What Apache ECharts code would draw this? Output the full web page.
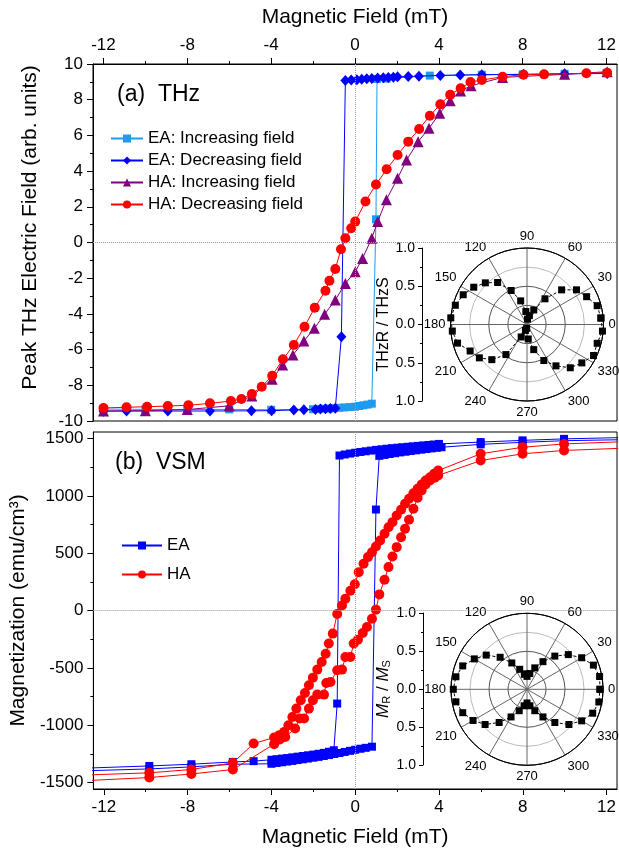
<!DOCTYPE html>
<html><head><meta charset="utf-8">
<script src="https://cdn.jsdelivr.net/npm/echarts@6/dist/echarts.min.js"></script>
<style>html,body{margin:0;padding:0;background:#fff}#c{width:619px;height:857px}</style>
</head><body><div id="c"></div>
<script>
// ---------- (a) THz panel ----------
const thzEaIncX = [-12,-10,-8,-6,-4,-2,-1.75,-1.5,-1.25,-1,-0.75,-0.5,-0.25,0,0.2,0.4,0.6,0.8,1.0,1.05,1.5,3.57,6.05,8,10,12];
const thzEaIncY = [-9.33,-9.35,-9.36,-9.35,-9.37,-9.34,-9.32,-9.31,-9.3,-9.28,-9.26,-9.24,-9.22,-9.2,-9.16,-9.12,-9.08,-9.03,1.3,9.16,9.18,9.35,9.4,9.42,9.45,9.5];
const thzEaDecX = [-12,-10.9,-8.93,-6.92,-4.94,-3.98,-2.92,-2.44,-1.89,-1.65,-1.41,-1.18,-0.94,-0.65,-0.46,-0.18,0.09,0.32,0.56,0.80,1.08,1.35,1.59,1.83,2.03,2.54,3.05,4.07,5.02,6.05,8.04,10.0,12.03];
const thzEaDecY = [-9.45,-9.44,-9.44,-9.44,-9.43,-9.42,-9.38,-9.37,-9.35,-9.33,-9.32,-9.3,-9.29,-5.28,9.08,9.1,9.12,9.15,9.17,9.19,9.21,9.23,9.25,9.26,9.28,9.3,9.32,9.36,9.38,9.4,9.42,9.45,9.47];
const thzHaIncX = [-12,-10,-8,-6,-4.92,-3.95,-3.45,-2.96,-2.44,-1.94,-1.45,-0.94,-0.46,0.01,0.36,0.80,1.08,1.5,2.03,2.46,3.01,3.53,4.04,4.54,5.04,5.54,7.04,10.0,12.03];
const thzHaIncY = [-9.44,-9.42,-9.36,-9.15,-8.6,-7.66,-6.86,-6.30,-5.52,-4.81,-4.02,-3.22,-2.29,-1.64,-0.89,0.24,1.17,2.4,3.60,4.62,5.65,6.40,7.24,7.94,8.49,8.78,9.25,9.42,9.57];
const thzHaDecX = [-12,-10.9,-9.92,-8.93,-7.95,-6.92,-5.92,-5.42,-4.92,-4.45,-3.95,-3.44,-2.92,-2.41,-1.92,-1.41,-1.22,-0.94,-0.67,-0.46,-0.18,0.01,0.5,1.0,1.51,2.03,2.54,3.06,3.57,4.07,4.54,5.04,5.51,6.05,7.04,8.04,9.02,11.04,12.03];
const thzHaDecY = [-9.27,-9.23,-9.20,-9.16,-9.12,-9.01,-8.88,-8.77,-8.49,-8.08,-7.46,-6.54,-5.74,-4.72,-3.65,-2.70,-2.14,-1.48,-0.38,0.24,0.80,1.17,2.3,3.25,4.10,4.90,5.65,6.36,7.10,7.74,8.28,8.64,8.99,9.10,9.29,9.40,9.42,9.48,9.51];

// ---------- (b) VSM panel ----------
const vsmEaDecX = [-14,-9.83,-7.82,-5.84,-4.85,-4.0,-3.75,-3.5,-3.25,-3.0,-2.75,-2.5,-2.25,-2.0,-1.75,-1.5,-1.25,-1.02,-0.86,-0.75,-0.5,-0.25,0,0.25,0.5,0.75,1.0,1.25,1.5,1.75,2.0,2.25,2.5,2.75,3.0,3.25,3.5,3.75,4.0,5.99,7.99,9.97,14];
const vsmEaDecY = [-1380,-1354,-1339,-1319,-1312,-1300,-1295,-1290,-1285,-1279,-1273,-1267,-1261,-1255,-1248,-1240,-1230,-1217,-810,1353,1362,1370,1377,1384,1390,1396,1402,1407,1412,1417,1421,1425,1429,1433,1437,1441,1445,1449,1454,1470,1485,1498,1515];
const vsmEaIncX = [-14,-9.83,-7.82,-5.84,-4.0,-3.75,-3.5,-3.25,-3.0,-2.75,-2.5,-2.25,-2.0,-1.75,-1.5,-1.25,-1.0,-0.75,-0.5,-0.25,0,0.25,0.5,0.8,0.99,1.15,1.4,1.65,1.9,2.15,2.4,2.65,2.9,3.15,3.4,3.65,3.9,4.12,5.99,7.99,9.97,14];
const vsmEaIncY = [-1402,-1380,-1362,-1339,-1335,-1328,-1322,-1316,-1310,-1303,-1296,-1289,-1282,-1275,-1267,-1259,-1250,-1241,-1232,-1222,-1213,-1204,-1196,-1186,882,1350,1358,1366,1373,1380,1386,1392,1398,1404,1410,1415,1420,1425,1450,1468,1482,1495];
const vsmHaDecX = [-14,-9.83,-7.82,-5.84,-4.85,-3.87,-3.63,-3.39,-3.19,-3.0,-2.81,-2.60,-2.40,-2.21,-2.02,-1.81,-1.60,-1.41,-1.26,-1.07,-0.86,-0.63,-0.47,-0.23,-0.02,0.17,0.40,0.61,0.80,0.99,1.19,1.40,1.59,1.78,1.98,2.19,2.38,2.57,2.78,2.98,3.17,3.36,3.57,3.77,3.96,5.99,7.99,9.97,14];
const vsmHaDecY = [-1440,-1414,-1385,-1327,-1159,-1106,-1086,-1057,-999,-927,-854,-781,-718,-651,-584,-514,-448,-375,-287,-200,-29,46,104,174,230,336,409,467,510,560,612,671,728,772,830,880,932,976,1024,1063,1100,1135,1164,1193,1222,1368,1425,1454,1482];
const vsmHaIncX = [-14,-9.83,-7.82,-5.84,-3.87,-3.6,-3.34,-2.87,-2.65,-2.44,-2.21,-2.02,-1.81,-1.49,-1.38,-1.18,-0.86,-0.63,-0.47,-0.23,-0.07,0.13,0.36,0.56,0.80,0.99,1.15,1.40,1.59,1.78,1.98,2.19,2.38,2.57,2.78,2.98,3.17,3.36,3.57,3.80,3.96,5.99,7.99,9.97,14];
const vsmHaIncY = [-1492,-1455,-1424,-1385,-1164,-1124,-1101,-1028,-941,-941,-854,-781,-732,-732,-631,-622,-520,-514,-404,-404,-287,-253,-195,-143,-70,9,142,270,380,473,554,641,714,793,889,984,1048,1100,1135,1159,1179,1309,1368,1397,1425];

// ---------- polar insets ----------
const thzAngle = [5,15,25,35,45,55,65,75,85,95,105,115,125,135,145,155,165,175,185,195,205,215,225,235,245,255,265,275,285,295,305,315,325,335,345,355];
const thzRatio = [0.97,0.95,0.86,0.79,0.64,0.41,0.21,0.12,0.07,0.17,0.32,0.49,0.67,0.77,0.85,0.92,0.97,1.0,0.98,0.94,0.82,0.76,0.65,0.48,0.18,0.08,0.05,0.19,0.34,0.52,0.66,0.80,0.875,0.96,0.95,0.99];
const vsmAngle = [0,10,20,30,40,50,60,70,80,90,100,110,120,130,140,150,160,170,180,190,200,210,220,230,240,250,260,270,280,290,300,310,320,330,340,350];
const vsmRatio = [0.96,0.97,0.93,0.83,0.71,0.57,0.42,0.3,0.21,0.17,0.2,0.28,0.4,0.55,0.7,0.8,0.9,0.95,0.97,0.95,0.9,0.82,0.72,0.57,0.42,0.3,0.22,0.18,0.22,0.3,0.42,0.57,0.72,0.83,0.92,0.96];

// ---------- ticks ----------
const fieldMajorTicks = [-12,-8,-4,0,4,8,12];
const fieldMinorTicks = [-10,-6,-2,2,6,10];
const magMajorTicks = [-1500,-1000,-500,0,500,1000,1500];
const magMinorTicks = [-1250,-750,-250,250,750,1250];

const zip = (xs, ys) => xs.map((x, i) => [x, ys[i]]);
const polarPts = (angs, rs) => { const d = angs.map((a, i) => [rs[i], a]); d.push(d[0]); return d; };

const FONT = 'Liberation Sans, Arial, sans-serif';
const C_EAI = '#1E9BF0', C_EAD = '#0000FF', C_HAI = '#800080', C_HAD = '#FF0000';
const zeroLines = {
  silent: true, symbol: 'none', label: {show: false},
  lineStyle: {type: 'dotted', color: '#999', width: 1},
  data: [{xAxis: 0}, {yAxis: 0}]
};

function mainX(grid, pos) {
  return {
    type: 'value', gridIndex: grid, position: pos, min: -12.5, max: 12.5,
    name: 'Magnetic Field (mT)', nameLocation: 'middle', nameGap: pos === 'top' ? 36 : 38,
    nameTextStyle: {fontFamily: FONT, fontSize: 21, color: '#000'},
    axisLine: {show: true, onZero: false, lineStyle: {color: '#000', width: 1}},
    axisTick: {show: true, inside: false, length: 6, customValues: fieldMajorTicks, lineStyle: {color: '#000'}},
    axisLabel: {show: true, customValues: fieldMajorTicks, margin: 10, fontFamily: FONT, fontSize: 17, color: '#000'},
    splitLine: {show: false}
  };
}
function minorX(grid, pos) {
  return {
    type: 'value', gridIndex: grid, position: pos, min: -12.5, max: 12.5,
    axisLine: {show: false, onZero: false}, axisLabel: {show: false}, splitLine: {show: false},
    axisTick: {show: true, length: 3, customValues: fieldMinorTicks, lineStyle: {color: '#000'}}
  };
}
function insetY(grid, name) {
  return {
    type: 'value', gridIndex: grid, position: 'left', min: -1, max: 1, interval: 0.5,
    name: name, nameLocation: 'middle', nameGap: 25, nameRotate: 90,
    nameTextStyle: {fontFamily: FONT, fontSize: 16, color: '#000',
      rich: {i: {fontFamily: FONT, fontSize: 17, fontStyle: 'italic', color: '#000'},
             s: {fontFamily: FONT, fontSize: 11, color: '#000', verticalAlign: 'bottom', padding: [8, 0, 0, 0]},
             n: {fontFamily: FONT, fontSize: 17, color: '#000'}}},
    axisLine: {show: true, onZero: false, lineStyle: {color: '#000'}},
    axisTick: {show: true, length: 4, lineStyle: {color: '#000'}},
    minorTick: {show: true, splitNumber: 2, length: 2, lineStyle: {color: '#000'}},
    axisLabel: {margin: 7, fontFamily: FONT, fontSize: 14, color: '#000', formatter: v => Math.abs(v).toFixed(1)},
    splitLine: {show: false}
  };
}
function polarAngle(idx) {
  return {
    polarIndex: idx, type: 'value', min: 0, max: 360, interval: 30, startAngle: 0, clockwise: false,
    axisLine: {show: true, lineStyle: {color: '#000', width: 1}},
    axisTick: {show: false},
    axisLabel: {margin: 5, fontFamily: FONT, fontSize: 13, color: '#000', formatter: v => v === 360 ? '' : String(v)},
    splitLine: {show: true, lineStyle: {color: '#666', width: 1}}
  };
}
function polarRadius(idx) {
  return {
    polarIndex: idx, type: 'value', min: 0, max: 1, interval: 0.25,
    axisLine: {show: false}, axisTick: {show: false}, axisLabel: {show: false},
    splitLine: {show: true, lineStyle: {color: ['#000', '#555', '#555', '#bbb', '#000'], width: 1}}
  };
}
function polarSeries(idx, data) {
  return {
    type: 'line', coordinateSystem: 'polar', polarIndex: idx, data: data,
    symbol: 'rect', symbolSize: 7, itemStyle: {color: '#000'},
    lineStyle: {color: '#000', width: 1, type: [3, 2]}, z: 5, animation: false
  };
}

const option = {
  animation: false,
  backgroundColor: '#fff',
  textStyle: {fontFamily: FONT},
  grid: [
    {left: 93, width: 526, top: 64, height: 357, show: true, borderColor: '#000', borderWidth: 1},
    {left: 93, width: 526, top: 432, height: 357, show: true, borderColor: '#000', borderWidth: 1},
    {left: 422, width: 10, top: 248, height: 153},
    {left: 423, width: 10, top: 613, height: 152}
  ],
  polar: [
    {center: [527, 324.5], radius: 76.5},
    {center: [527, 689.3], radius: 76}
  ],
  angleAxis: [polarAngle(0), polarAngle(1)],
  radiusAxis: [polarRadius(0), polarRadius(1)],
  xAxis: [
    mainX(0, 'top'), minorX(0, 'top'),
    mainX(1, 'bottom'), minorX(1, 'bottom'),
    {type: 'value', gridIndex: 2, min: 0, max: 1, show: false},
    {type: 'value', gridIndex: 3, min: 0, max: 1, show: false}
  ],
  yAxis: [
    {type: 'value', gridIndex: 0, position: 'left', min: -10, max: 10, interval: 2,
     name: 'Peak THz Electric Field (arb. units)', nameLocation: 'middle', nameGap: 52,
     nameTextStyle: {fontFamily: FONT, fontSize: 21, color: '#000', padding: [0, 0, 0, 30]},
     axisLine: {show: true, onZero: false, lineStyle: {color: '#000'}},
     axisTick: {show: true, length: 6, lineStyle: {color: '#000'}},
     minorTick: {show: true, splitNumber: 2, length: 3, lineStyle: {color: '#000'}},
     axisLabel: {margin: 10, fontFamily: FONT, fontSize: 17, color: '#000'},
     splitLine: {show: false}},
    {type: 'value', gridIndex: 1, position: 'left', min: -1555, max: 1558,
     name: 'Magnetization (emu/cm³)', nameLocation: 'middle', nameGap: 60,
     nameTextStyle: {fontFamily: FONT, fontSize: 21, color: '#000'},
     axisLine: {show: true, onZero: false, lineStyle: {color: '#000'}},
     axisTick: {show: true, length: 6, customValues: magMajorTicks, lineStyle: {color: '#000'}},
     axisLabel: {margin: 10, customValues: magMajorTicks, fontFamily: FONT, fontSize: 17, color: '#000', formatter: v => String(Math.round(v))},
     splitLine: {show: false}},
    {type: 'value', gridIndex: 1, position: 'left', min: -1555, max: 1558,
     axisLine: {show: false, onZero: false}, axisLabel: {show: false}, splitLine: {show: false},
     axisTick: {show: true, length: 3, customValues: magMinorTicks, lineStyle: {color: '#000'}}},
    insetY(2, 'THzR / THzS'),
    insetY(3, '{i|M}{s|R}{n| / }{i|M}{s|S}')
  ],
  legend: [
    {orient: 'vertical', left: 110, top: 130, padding: 0, itemGap: 5, itemWidth: 32, itemHeight: 10,
     textStyle: {fontFamily: FONT, fontSize: 17, color: '#000'},
     data: ['EA: Increasing field', 'EA: Decreasing field', 'HA: Increasing field', 'HA: Decreasing field']},
    {orient: 'vertical', left: 121, top: 537, padding: 0, itemGap: 12, itemWidth: 40, itemHeight: 10,
     textStyle: {fontFamily: FONT, fontSize: 17, color: '#000'},
     data: ['EA', 'HA']}
  ],
  graphic: [
    {type: 'text', left: 117, top: 83, style: {text: '(a)  THz', font: '23px ' + FONT, fill: '#000'}},
    {type: 'text', left: 115, top: 451, style: {text: '(b)  VSM', font: '23px ' + FONT, fill: '#000'}}
  ],
  series: [
    {name: 'EA: Increasing field', type: 'line', xAxisIndex: 0, yAxisIndex: 0, data: zip(thzEaIncX, thzEaIncY),
     symbol: 'rect', symbolSize: 8, itemStyle: {color: C_EAI}, lineStyle: {color: C_EAI, width: 1}, markLine: zeroLines, z: 2},
    {name: 'EA: Decreasing field', type: 'line', xAxisIndex: 0, yAxisIndex: 0, data: zip(thzEaDecX, thzEaDecY),
     symbol: 'diamond', symbolSize: [10, 11], itemStyle: {color: C_EAD}, lineStyle: {color: C_EAD, width: 1}, z: 3},
    {name: 'HA: Increasing field', type: 'line', xAxisIndex: 0, yAxisIndex: 0, data: zip(thzHaIncX, thzHaIncY),
     symbol: 'triangle', symbolSize: 11, itemStyle: {color: C_HAI}, lineStyle: {color: C_HAI, width: 1}, z: 3},
    {name: 'HA: Decreasing field', type: 'line', xAxisIndex: 0, yAxisIndex: 0, data: zip(thzHaDecX, thzHaDecY),
     symbol: 'circle', symbolSize: 10, itemStyle: {color: C_HAD}, lineStyle: {color: C_HAD, width: 1}, z: 4},

    {name: 'EA', type: 'line', xAxisIndex: 2, yAxisIndex: 1, data: zip(vsmEaDecX, vsmEaDecY),
     symbol: 'rect', symbolSize: 8, itemStyle: {color: C_EAD}, lineStyle: {color: C_EAD, width: 1}, markLine: zeroLines, z: 2},
    {name: 'EA', type: 'line', xAxisIndex: 2, yAxisIndex: 1, data: zip(vsmEaIncX, vsmEaIncY),
     symbol: 'rect', symbolSize: 8, itemStyle: {color: C_EAD}, lineStyle: {color: C_EAD, width: 1}, z: 2},
    {name: 'HA', type: 'line', xAxisIndex: 2, yAxisIndex: 1, data: zip(vsmHaDecX, vsmHaDecY),
     symbol: 'circle', symbolSize: 10, itemStyle: {color: C_HAD}, lineStyle: {color: C_HAD, width: 1}, z: 3},
    {name: 'HA', type: 'line', xAxisIndex: 2, yAxisIndex: 1, data: zip(vsmHaIncX, vsmHaIncY),
     symbol: 'circle', symbolSize: 10, itemStyle: {color: C_HAD}, lineStyle: {color: C_HAD, width: 1}, z: 3},

    polarSeries(0, polarPts(thzAngle, thzRatio)),
    polarSeries(1, polarPts(vsmAngle, vsmRatio))
  ]
};
const chart = echarts.init(document.getElementById('c'));
chart.setOption(option);
</script></body></html>
